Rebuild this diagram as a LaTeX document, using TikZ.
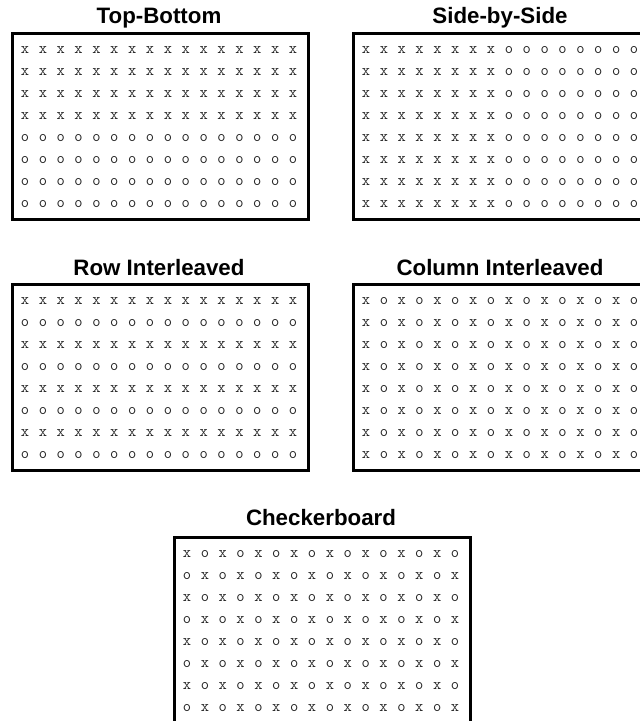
\documentclass[tikz,border=0pt]{standalone}
\usepackage{fontspec}
\setmainfont{Liberation Sans}
\begin{document}
\begin{tikzpicture}[x=1pt,y=-1pt,
  panel/.style={draw=black,line width=2.6pt,fill=white,minimum width=296pt,minimum height=186pt,inner sep=0pt,anchor=north west},
  paneltitle/.style={font=\bfseries\fontsize{22.3}{24}\selectfont,anchor=base,inner sep=0pt},
  mk/.style={font=\ttfamily\fontsize{16}{16}\selectfont,text=black!85,inner sep=0pt,anchor=center}]
\useasboundingbox (0,0) rectangle (640,721);
\clip (0,0) rectangle (640,721);
\newcommand\markgrid[4]{% #1 name, #2 left, #3 top, #4 test
  \foreach \r in {0,...,7}{
    \foreach \c in {0,...,15}{
      \pgfmathtruncatemacro\isx{(#4) ? 1 : 0}
      \ifnum\isx=1
        \node[mk] (#1-\r-\c) at ({#2+14+17.87*\c},{#3+18+22*\r}) {x};
      \else
        \node[mk] (#1-\r-\c) at ({#2+14+17.87*\c},{#3+18+22*\r}) {o};
      \fi
    }
  }
}
% panels
\node[panel] (tb) at (11,32) {};
\node[paneltitle] (tbt) at (159,23) {Top-Bottom};
\markgrid{tbm}{11}{32}{\r<4}

\node[panel] (sbs) at (352,32) {};
\node[paneltitle] (sbst) at (500,23) {Side-by-Side};
\markgrid{sbsm}{352}{32}{\c<8}

\node[panel] (ri) at (11,283) {};
\node[paneltitle] (rit) at (159,275) {Row Interleaved};
\markgrid{rim}{11}{283}{mod(\r,2)==0}

\node[panel] (ci) at (352,283) {};
\node[paneltitle] (cit) at (500,275) {Column Interleaved};
\markgrid{cim}{352}{283}{mod(\c,2)==0}

\node[panel] (cb) at (173,536) {};
\node[paneltitle] (cbt) at (321,525) {Checkerboard};
\markgrid{cbm}{173}{536}{mod(\r+\c,2)==0}
\end{tikzpicture}
\end{document}
